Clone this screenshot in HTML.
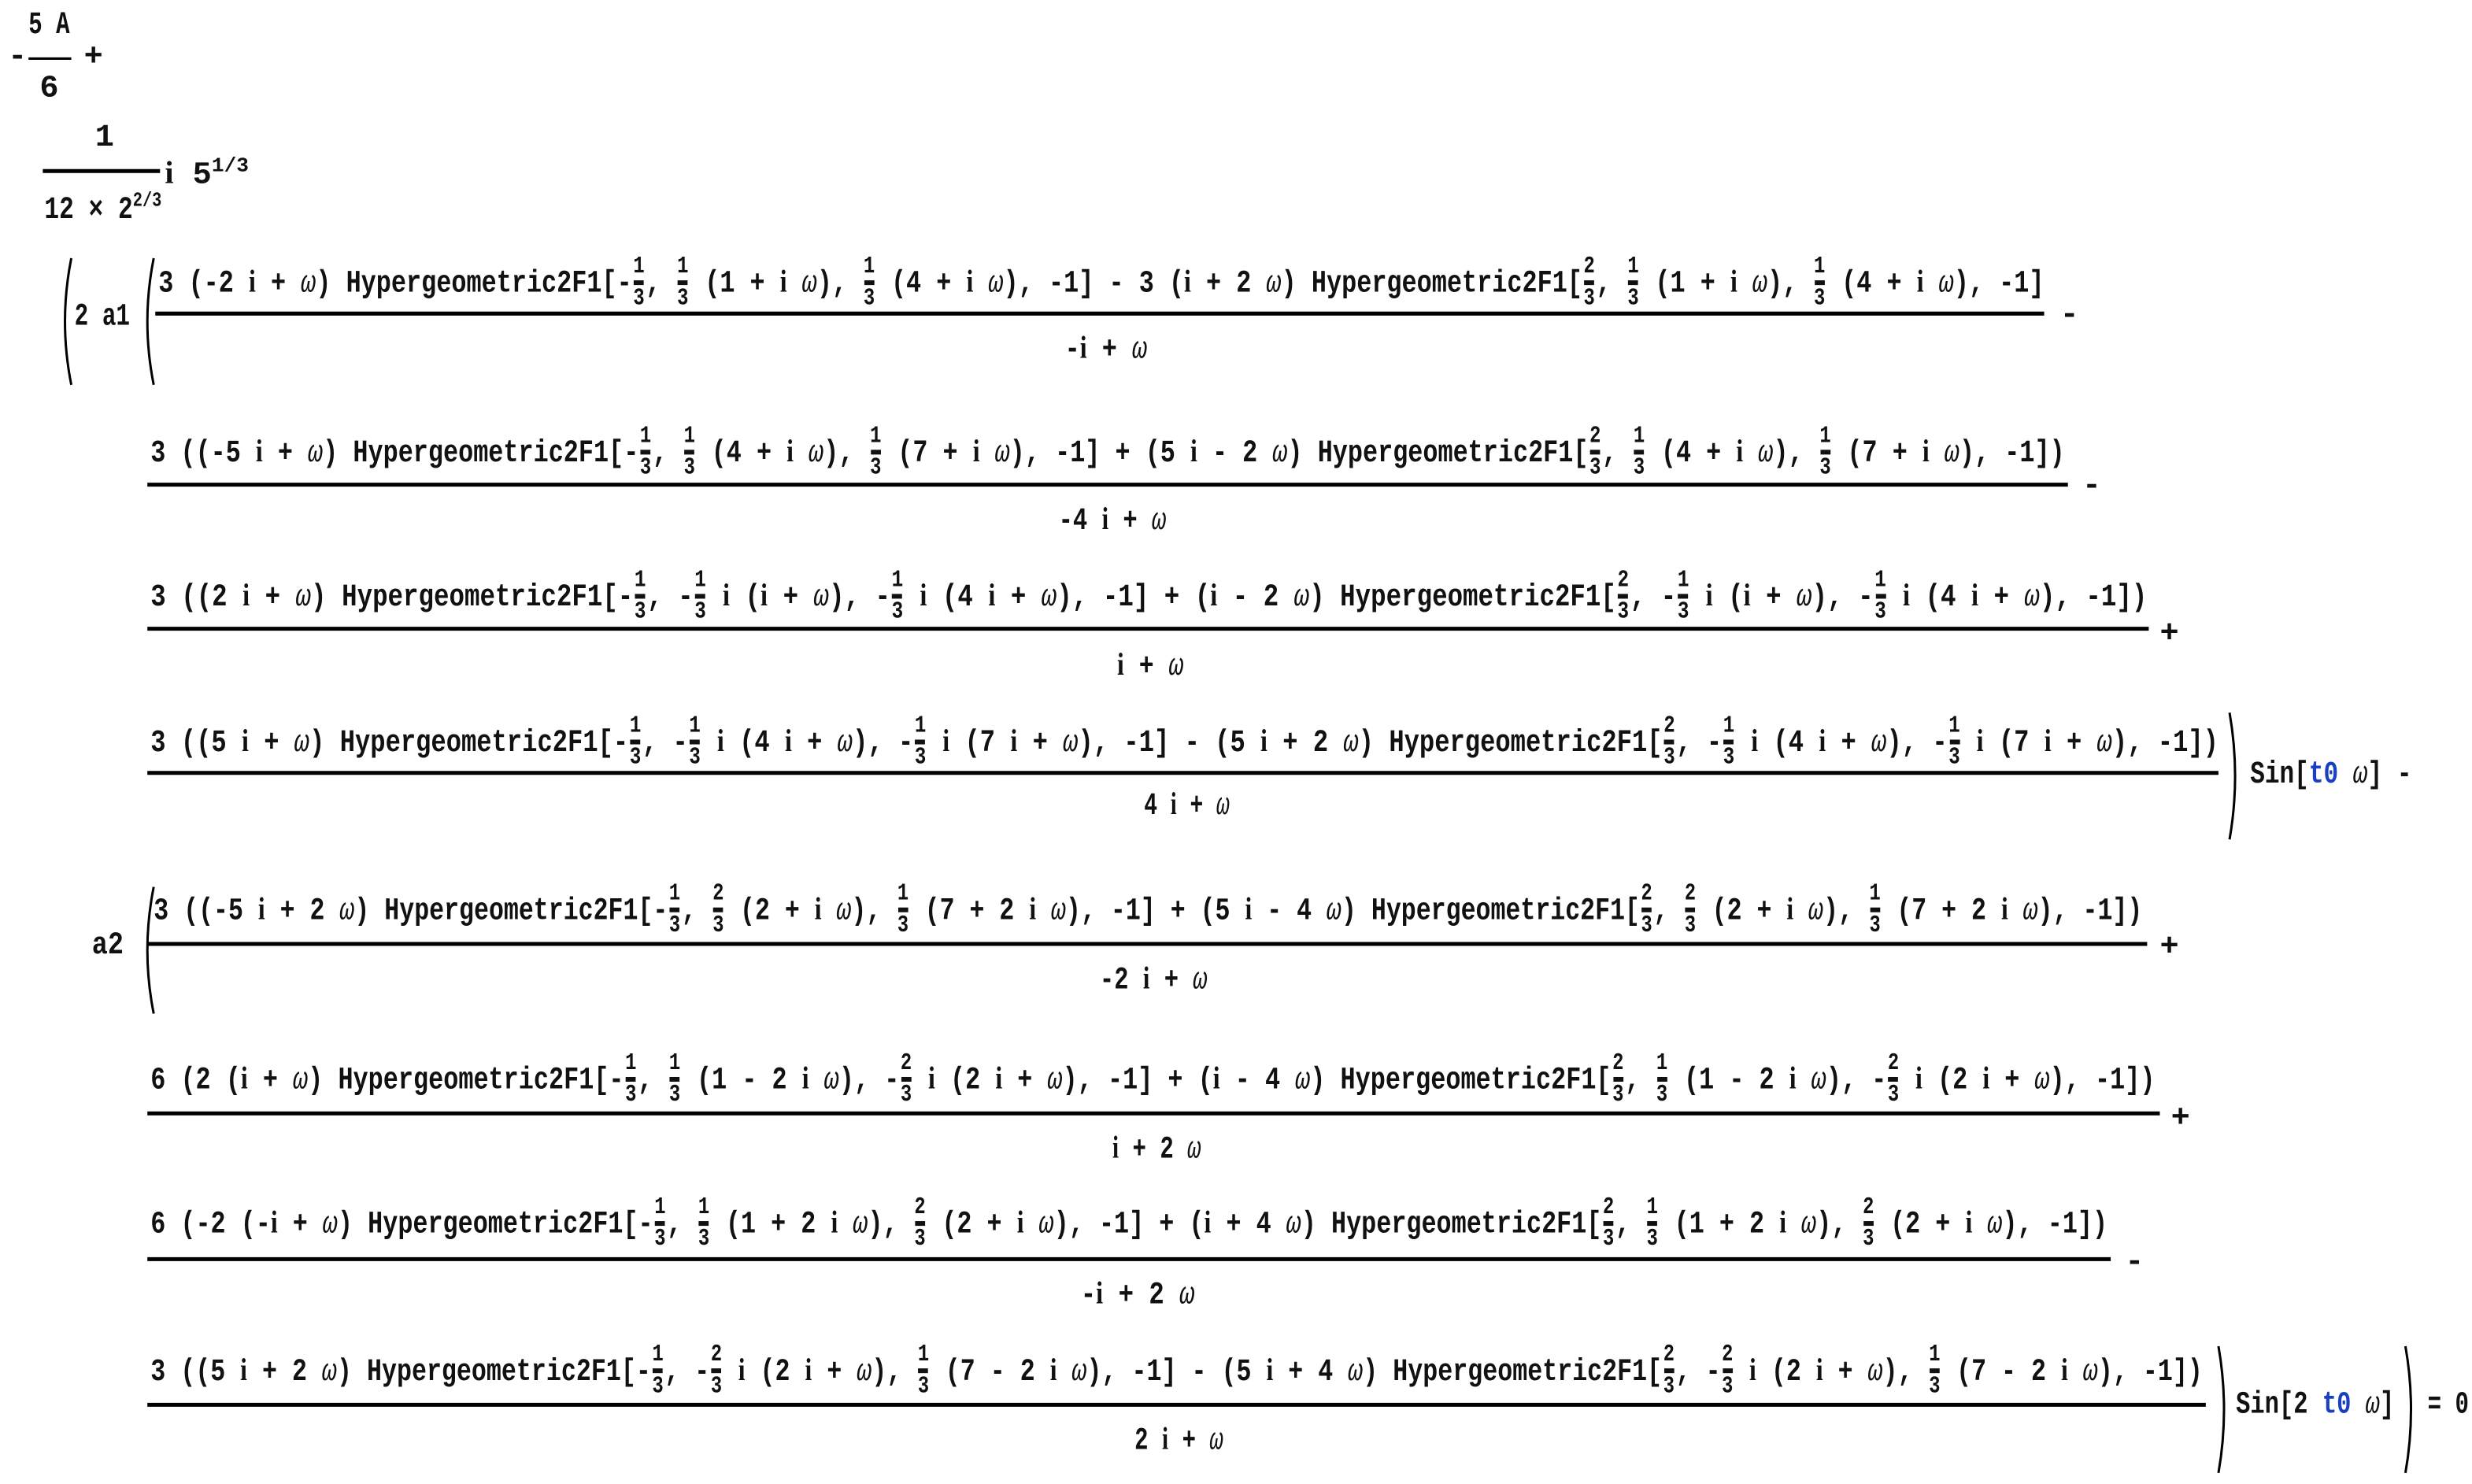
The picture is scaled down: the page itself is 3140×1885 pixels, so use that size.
<!DOCTYPE html>
<html><head><meta charset="utf-8">
<style>
html,body{margin:0;padding:0;background:#fff;}
body{width:3140px;height:1885px;overflow:hidden;position:relative;}
#s{position:absolute;left:0;top:0;width:1560px;height:937px;transform:scale(2.01282,2.01174);transform-origin:0 0;}
.t{position:absolute;white-space:nowrap;font-family:"Liberation Mono","DejaVu Sans Mono",monospace;font-weight:bold;font-size:20px;line-height:24px;color:#111;transform-origin:0 50%;}
.f{display:inline-block;vertical-align:middle;text-align:center;font-size:15px;line-height:16px;margin:0 1px;}
.f span{display:block;}
.f span:first-child{padding:0 0 1px;}
.f span:first-child:after{content:"";display:block;width:8px;height:3px;background:#111;margin:0 auto;}
.ii{font-family:"Liberation Serif",serif;font-weight:bold;}
.w{font-style:italic;font-weight:normal;}
.b{color:#1a3fc0;}
sup{font-size:13px;}
</style></head><body>
<div id="s">
<svg width="1560" height="937" style="position:absolute;left:0;top:0" stroke="#000" fill="none">
<line x1="18" y1="37" x2="45" y2="37" stroke-width="1.5"/>
<line x1="27" y1="108" x2="101" y2="108" stroke-width="2.5"/>
<line x1="98" y1="198" x2="1290" y2="198" stroke-width="2.5"/>
<line x1="93" y1="306" x2="1305" y2="306" stroke-width="2.5"/>
<line x1="93" y1="397" x2="1356" y2="397" stroke-width="2.5"/>
<line x1="93" y1="488" x2="1400" y2="488" stroke-width="2.5"/>
<line x1="93" y1="596" x2="1355" y2="596" stroke-width="2.5"/>
<line x1="93" y1="703" x2="1363" y2="703" stroke-width="2.5"/>
<line x1="93" y1="795" x2="1332" y2="795" stroke-width="2.5"/>
<line x1="93" y1="887" x2="1392" y2="887" stroke-width="2.5"/>
<g stroke-width="1.5">
<path d="M45 163 Q37 203 45 243"/>
<path d="M97 163 Q89 203 97 243"/>
<path d="M1407 450 Q1414 490 1407 530"/>
<path d="M97 560 Q89 600 97 640"/>
<path d="M1400 850 Q1407 890 1400 930"/>
<path d="M1518 850 Q1525 890 1518 930"/>
</g>
</svg>

<div class="t" style="left:5px;top:25px">-</div>
<div class="t" id="a1" style="left:18px;top:5px">5 A</div>
<div class="t" style="left:25px;top:45px">6</div>
<div class="t" style="left:53px;top:25px">+</div>
<div class="t" style="left:60px;top:76px">1</div>
<div class="t" id="a2" style="left:28px;top:115px">12 × 2<sup>2/3</sup></div>
<div class="t" style="left:104px;top:93px"><span class="ii">i</span> 5<sup>1/3</sup></div>
<div class="t" id="a3" style="left:47px;top:189px">2 a1</div>

<div class="t" id="n1" style="left:100px;top:161px">3 (-2 <span class="ii">i</span> + <span class="w">ω</span>) Hypergeometric2F1[-<span class="f"><span>1</span><span>3</span></span>, <span class="f"><span>1</span><span>3</span></span> (1 + <span class="ii">i</span> <span class="w">ω</span>), <span class="f"><span>1</span><span>3</span></span> (4 + <span class="ii">i</span> <span class="w">ω</span>), -1] - 3 (<span class="ii">i</span> + 2 <span class="w">ω</span>) Hypergeometric2F1[<span class="f"><span>2</span><span>3</span></span>, <span class="f"><span>1</span><span>3</span></span> (1 + <span class="ii">i</span> <span class="w">ω</span>), <span class="f"><span>1</span><span>3</span></span> (4 + <span class="ii">i</span> <span class="w">ω</span>), -1]</div>
<div class="t" id="d1" style="left:672px;top:208px">-<span class="ii">i</span> + <span class="w">ω</span></div>
<div class="t" style="left:1300px;top:188px">-</div>

<div class="t" id="n2" style="left:95px;top:268px">3 ((-5 <span class="ii">i</span> + <span class="w">ω</span>) Hypergeometric2F1[-<span class="f"><span>1</span><span>3</span></span>, <span class="f"><span>1</span><span>3</span></span> (4 + <span class="ii">i</span> <span class="w">ω</span>), <span class="f"><span>1</span><span>3</span></span> (7 + <span class="ii">i</span> <span class="w">ω</span>), -1] + (5 <span class="ii">i</span> - 2 <span class="w">ω</span>) Hypergeometric2F1[<span class="f"><span>2</span><span>3</span></span>, <span class="f"><span>1</span><span>3</span></span> (4 + <span class="ii">i</span> <span class="w">ω</span>), <span class="f"><span>1</span><span>3</span></span> (7 + <span class="ii">i</span> <span class="w">ω</span>), -1])</div>
<div class="t" id="d2" style="left:668px;top:316px">-4 <span class="ii">i</span> + <span class="w">ω</span></div>
<div class="t" style="left:1314px;top:296px">-</div>

<div class="t" id="n3" style="left:95px;top:359px">3 ((2 <span class="ii">i</span> + <span class="w">ω</span>) Hypergeometric2F1[-<span class="f"><span>1</span><span>3</span></span>, -<span class="f"><span>1</span><span>3</span></span> <span class="ii">i</span> (<span class="ii">i</span> + <span class="w">ω</span>), -<span class="f"><span>1</span><span>3</span></span> <span class="ii">i</span> (4 <span class="ii">i</span> + <span class="w">ω</span>), -1] + (<span class="ii">i</span> - 2 <span class="w">ω</span>) Hypergeometric2F1[<span class="f"><span>2</span><span>3</span></span>, -<span class="f"><span>1</span><span>3</span></span> <span class="ii">i</span> (<span class="ii">i</span> + <span class="w">ω</span>), -<span class="f"><span>1</span><span>3</span></span> <span class="ii">i</span> (4 <span class="ii">i</span> + <span class="w">ω</span>), -1])</div>
<div class="t" id="d3" style="left:705px;top:408px"><span class="ii">i</span> + <span class="w">ω</span></div>
<div class="t" style="left:1363px;top:389px">+</div>

<div class="t" id="n4" style="left:95px;top:451px">3 ((5 <span class="ii">i</span> + <span class="w">ω</span>) Hypergeometric2F1[-<span class="f"><span>1</span><span>3</span></span>, -<span class="f"><span>1</span><span>3</span></span> <span class="ii">i</span> (4 <span class="ii">i</span> + <span class="w">ω</span>), -<span class="f"><span>1</span><span>3</span></span> <span class="ii">i</span> (7 <span class="ii">i</span> + <span class="w">ω</span>), -1] - (5 <span class="ii">i</span> + 2 <span class="w">ω</span>) Hypergeometric2F1[<span class="f"><span>2</span><span>3</span></span>, -<span class="f"><span>1</span><span>3</span></span> <span class="ii">i</span> (4 <span class="ii">i</span> + <span class="w">ω</span>), -<span class="f"><span>1</span><span>3</span></span> <span class="ii">i</span> (7 <span class="ii">i</span> + <span class="w">ω</span>), -1])</div>
<div class="t" id="d4" style="left:722px;top:496px">4 <span class="ii">i</span> + <span class="w">ω</span></div>
<div class="t" id="s1" style="left:1420px;top:478px">Sin[<span class="b">t0</span> <span class="w">ω</span>] -</div>

<div class="t" id="a4" style="left:58px;top:586px">a2</div>
<div class="t" id="n5" style="left:97px;top:557px">3 ((-5 <span class="ii">i</span> + 2 <span class="w">ω</span>) Hypergeometric2F1[-<span class="f"><span>1</span><span>3</span></span>, <span class="f"><span>2</span><span>3</span></span> (2 + <span class="ii">i</span> <span class="w">ω</span>), <span class="f"><span>1</span><span>3</span></span> (7 + 2 <span class="ii">i</span> <span class="w">ω</span>), -1] + (5 <span class="ii">i</span> - 4 <span class="w">ω</span>) Hypergeometric2F1[<span class="f"><span>2</span><span>3</span></span>, <span class="f"><span>2</span><span>3</span></span> (2 + <span class="ii">i</span> <span class="w">ω</span>), <span class="f"><span>1</span><span>3</span></span> (7 + 2 <span class="ii">i</span> <span class="w">ω</span>), -1])</div>
<div class="t" id="d5" style="left:694px;top:606px">-2 <span class="ii">i</span> + <span class="w">ω</span></div>
<div class="t" style="left:1363px;top:587px">+</div>

<div class="t" id="n6" style="left:95px;top:664px">6 (2 (<span class="ii">i</span> + <span class="w">ω</span>) Hypergeometric2F1[-<span class="f"><span>1</span><span>3</span></span>, <span class="f"><span>1</span><span>3</span></span> (1 - 2 <span class="ii">i</span> <span class="w">ω</span>), -<span class="f"><span>2</span><span>3</span></span> <span class="ii">i</span> (2 <span class="ii">i</span> + <span class="w">ω</span>), -1] + (<span class="ii">i</span> - 4 <span class="w">ω</span>) Hypergeometric2F1[<span class="f"><span>2</span><span>3</span></span>, <span class="f"><span>1</span><span>3</span></span> (1 - 2 <span class="ii">i</span> <span class="w">ω</span>), -<span class="f"><span>2</span><span>3</span></span> <span class="ii">i</span> (2 <span class="ii">i</span> + <span class="w">ω</span>), -1])</div>
<div class="t" id="d6" style="left:702px;top:713px"><span class="ii">i</span> + 2 <span class="w">ω</span></div>
<div class="t" style="left:1370px;top:695px">+</div>

<div class="t" id="n7" style="left:95px;top:755px">6 (-2 (-<span class="ii">i</span> + <span class="w">ω</span>) Hypergeometric2F1[-<span class="f"><span>1</span><span>3</span></span>, <span class="f"><span>1</span><span>3</span></span> (1 + 2 <span class="ii">i</span> <span class="w">ω</span>), <span class="f"><span>2</span><span>3</span></span> (2 + <span class="ii">i</span> <span class="w">ω</span>), -1] + (<span class="ii">i</span> + 4 <span class="w">ω</span>) Hypergeometric2F1[<span class="f"><span>2</span><span>3</span></span>, <span class="f"><span>1</span><span>3</span></span> (1 + 2 <span class="ii">i</span> <span class="w">ω</span>), <span class="f"><span>2</span><span>3</span></span> (2 + <span class="ii">i</span> <span class="w">ω</span>), -1])</div>
<div class="t" id="d7" style="left:682px;top:805px">-<span class="ii">i</span> + 2 <span class="w">ω</span></div>
<div class="t" style="left:1341px;top:786px">-</div>

<div class="t" id="n8" style="left:95px;top:848px">3 ((5 <span class="ii">i</span> + 2 <span class="w">ω</span>) Hypergeometric2F1[-<span class="f"><span>1</span><span>3</span></span>, -<span class="f"><span>2</span><span>3</span></span> <span class="ii">i</span> (2 <span class="ii">i</span> + <span class="w">ω</span>), <span class="f"><span>1</span><span>3</span></span> (7 - 2 <span class="ii">i</span> <span class="w">ω</span>), -1] - (5 <span class="ii">i</span> + 4 <span class="w">ω</span>) Hypergeometric2F1[<span class="f"><span>2</span><span>3</span></span>, -<span class="f"><span>2</span><span>3</span></span> <span class="ii">i</span> (2 <span class="ii">i</span> + <span class="w">ω</span>), <span class="f"><span>1</span><span>3</span></span> (7 - 2 <span class="ii">i</span> <span class="w">ω</span>), -1])</div>
<div class="t" id="d8" style="left:716px;top:897px">2 <span class="ii">i</span> + <span class="w">ω</span></div>
<div class="t" id="s2" style="left:1411px;top:876px">Sin[2 <span class="b">t0</span> <span class="w">ω</span>]</div>
<div class="t" id="s3" style="left:1532px;top:876px">= 0</div>
</div>
<script>
var W={a1:26,a2:74,a3:35,a4:20,n1:1190,d1:52,n2:1208,d2:68,n3:1260,d3:42,n4:1305,d4:54,s1:102,n5:1255,d5:68,n6:1265,d6:56,n7:1235,d7:72,n8:1295,d8:56,s2:100,s3:26};
for(var k in W){var e=document.getElementById(k);if(!e)continue;var w=e.getBoundingClientRect().width/2.01282;if(w>0)e.style.transform='scaleX('+(W[k]/w)+')';}
</script>
</body></html>
